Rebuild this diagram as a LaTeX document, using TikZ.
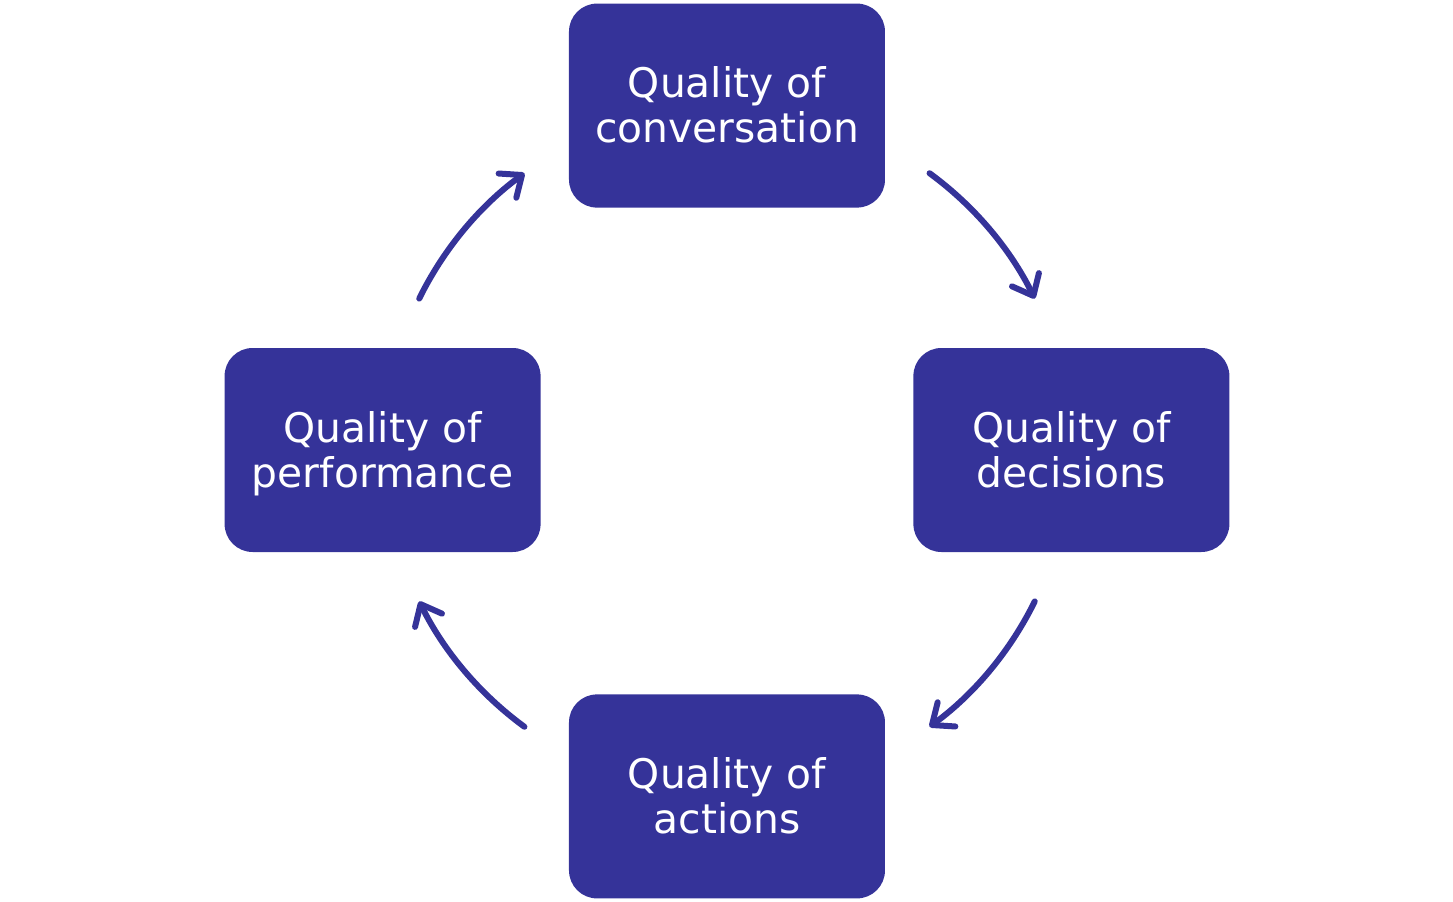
\documentclass[tikz,border=0pt]{standalone}
\usepackage{fontspec}
\setmainfont{DejaVu Sans}
\usetikzlibrary{positioning}
\usetikzlibrary{arrows.meta}
\definecolor{cyclecolor}{HTML}{353399}

\begin{document}
\begin{tikzpicture}
[stagenode/.style={rectangle,rounded corners=14pt,fill=cyclecolor,
text=white,minimum width=158pt,minimum height=102pt,inner sep=0pt,
align=center,text depth=1pt,font=\fontsize{20.4}{22.5}\selectfont},
cycle arrow/.style={draw=cyclecolor,line width=3pt,line cap=round,
-{Straight Barb[length=9pt,width=15pt,line join=round,line cap=round]}}
]
\useasboundingbox (-363.5pt,225pt) rectangle (363pt,-225.5pt);
\coordinate (hub) at (0,0);
\node [stagenode,above=121pt of hub] (conv) {Quality of\\conversation};
\node [stagenode,right=93pt of hub] (dec) {Quality of\\decisions};
\node [stagenode,below=122pt of hub] (act) {Quality of\\actions};
\node [stagenode,left=93pt of hub] (perf) {Quality of\\performance};
\draw [cycle arrow] ([shift={(53.8:171.5pt)}]hub)
arc [start angle=53.8,end angle=26.2,radius=171.5pt];
\draw [cycle arrow] ([shift={(-26.2:171.5pt)}]hub)
arc [start angle=-26.2,end angle=-53.8,radius=171.5pt];
\draw [cycle arrow] ([shift={(233.8:171.5pt)}]hub)
arc [start angle=233.8,end angle=206.2,radius=171.5pt];
\draw [cycle arrow] ([shift={(153.8:171.5pt)}]hub)
arc [start angle=153.8,end angle=126.2,radius=171.5pt];
\end{tikzpicture}
\end{document}
